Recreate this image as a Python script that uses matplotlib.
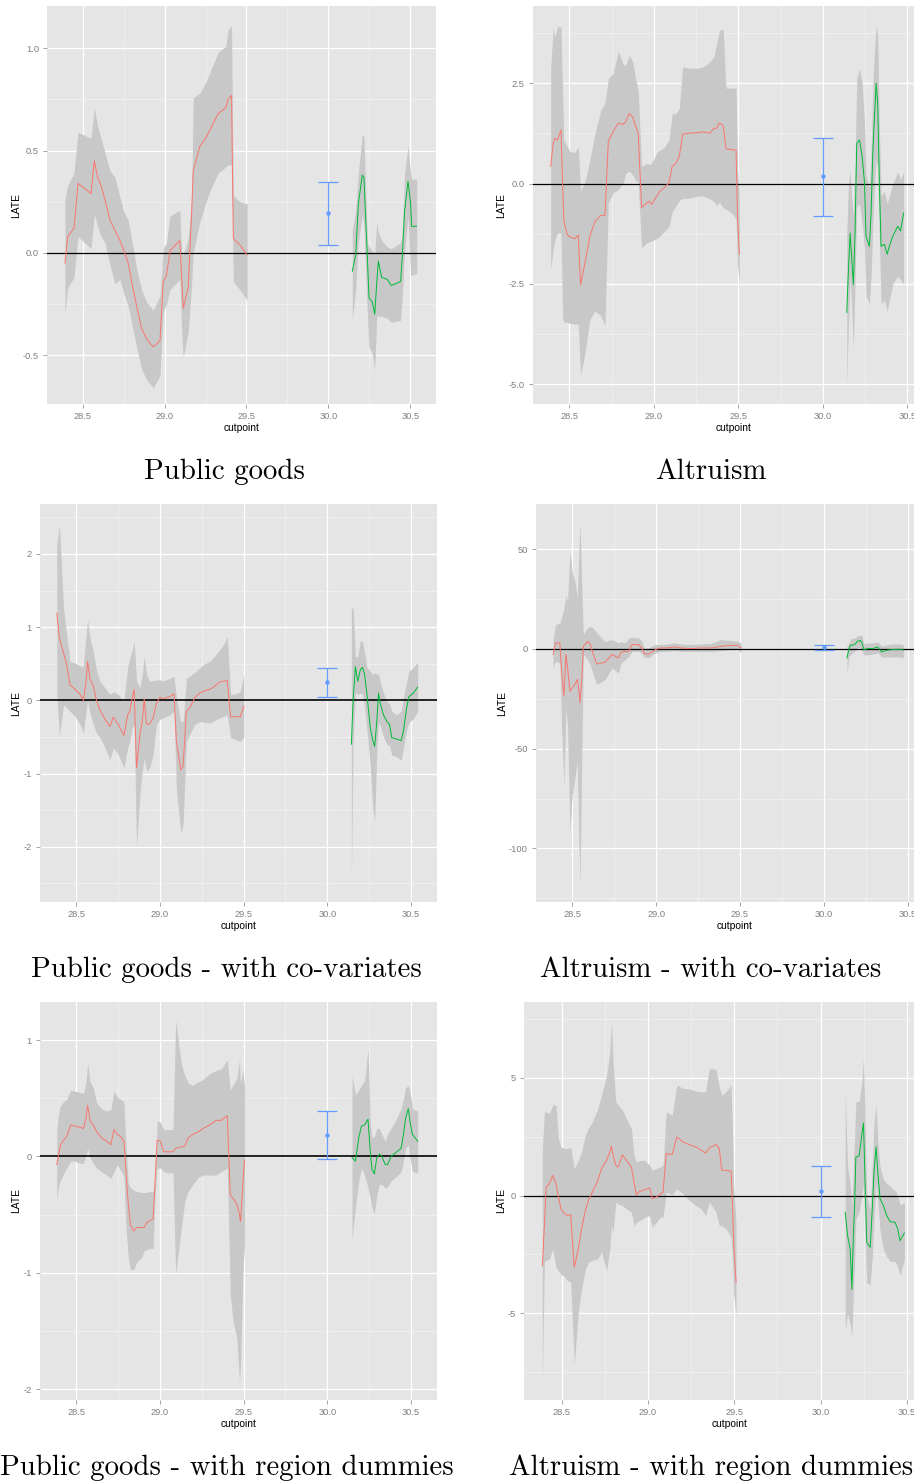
import matplotlib
matplotlib.use("Agg")
import matplotlib.pyplot as plt
from matplotlib.ticker import FixedLocator

W, H = 914, 1483

# ---------------- Public goods ----------------
pg_red_x = [28.392, 28.409, 28.447, 28.472, 28.551, 28.571, 28.591, 28.612, 28.636, 28.667,
            28.697, 28.728, 28.752, 28.778, 28.809, 28.835, 28.860, 28.890, 28.931, 28.972,
            28.992, 29.012, 29.033, 29.093, 29.104, 29.114, 29.144, 29.165, 29.175, 29.215,
            29.250, 29.276, 29.327, 29.374, 29.388, 29.409, 29.414, 29.420, 29.459, 29.504]
pg_red_late = [-0.05, 0.08, 0.12, 0.34, 0.29, 0.45, 0.37, 0.33, 0.26, 0.16,
               0.11, 0.06, 0.01, -0.05, -0.18, -0.28, -0.37, -0.42, -0.46, -0.43,
               -0.14, -0.11, 0.01, 0.06, -0.11, -0.27, -0.17, 0.19, 0.40, 0.52,
               0.56, 0.60, 0.68, 0.71, 0.75, 0.77, 0.44, 0.07, 0.04, -0.01]
pg_red_lo = [-0.30, -0.17, -0.12, 0.08, 0.02, 0.19, 0.13, 0.08, 0.05, -0.06,
             -0.15, -0.13, -0.20, -0.26, -0.38, -0.48, -0.57, -0.62, -0.66, -0.60,
             -0.29, -0.25, -0.18, -0.13, -0.37, -0.51, -0.39, -0.16, 0.00, 0.15,
             0.24, 0.30, 0.39, 0.42, 0.43, 0.43, 0.20, -0.14, -0.18, -0.23]
pg_red_hi = [0.26, 0.33, 0.39, 0.59, 0.56, 0.71, 0.62, 0.56, 0.49, 0.40,
             0.37, 0.27, 0.20, 0.16, 0.02, -0.10, -0.18, -0.24, -0.28, -0.21,
             0.02, 0.05, 0.18, 0.21, 0.00, -0.01, 0.07, 0.26, 0.76, 0.78,
             0.83, 0.88, 0.98, 1.01, 1.09, 1.11, 0.70, 0.28, 0.25, 0.24]
pg_green_x = [30.146, 30.167, 30.183, 30.207, 30.217, 30.238, 30.248, 30.268, 30.283, 30.295,
              30.305, 30.325, 30.360, 30.384, 30.441, 30.451, 30.465, 30.486, 30.502, 30.508,
              30.539]
pg_green_late = [-0.09, -0.01, 0.24, 0.38, 0.37, -0.02, -0.22, -0.24, -0.30, -0.15,
                 -0.04, -0.12, -0.13, -0.16, -0.14, -0.02, 0.20, 0.35, 0.24, 0.13,
                 0.13]
pg_green_lo = [-0.33, -0.18, 0.05, 0.19, 0.13, -0.30, -0.46, -0.49, -0.57, -0.31,
               -0.31, -0.31, -0.32, -0.34, -0.33, -0.21, 0.00, 0.18, -0.11, -0.11,
               -0.10]
pg_green_hi = [0.11, 0.21, 0.39, 0.58, 0.57, 0.05, 0.03, 0.01, 0.00, 0.15,
               0.10, 0.06, 0.03, 0.02, 0.05, 0.10, 0.39, 0.52, 0.39, 0.36,
               0.36]
pg_pool = [0.195, 0.037, 0.346]
pg_yticks = [-0.5, 0.0, 0.5, 1.0]
pg_ylabels = ["-0.5", "0.0", "0.5", "1.0"]

# ---------------- Altruism ----------------
al_red_x = [28.390, 28.405, 28.415, 28.431, 28.451, 28.461, 28.468, 28.488, 28.504, 28.534,
            28.553, 28.567, 28.593, 28.622, 28.652, 28.687, 28.711, 28.731, 28.760, 28.790,
            28.820, 28.835, 28.855, 28.875, 28.889, 28.908, 28.928, 28.958, 28.973, 28.987,
            29.017, 29.036, 29.060, 29.090, 29.109, 29.131, 29.151, 29.171, 29.214, 29.263,
            29.293, 29.332, 29.356, 29.372, 29.388, 29.411, 29.427, 29.470, 29.487, 29.495,
            29.506]
al_red_late = [0.43, 1.01, 1.13, 1.09, 1.34, -0.07, -0.94, -1.27, -1.33, -1.37,
               -1.28, -2.51, -1.97, -1.31, -0.94, -0.79, -0.79, 1.05, 1.30, 1.51,
               1.48, 1.55, 1.75, 1.66, 1.47, 1.26, -0.60, -0.48, -0.44, -0.52,
               -0.31, -0.19, -0.11, 0.02, 0.43, 0.51, 0.68, 1.23, 1.26, 1.27,
               1.29, 1.26, 1.38, 1.38, 1.51, 1.45, 0.87, 0.84, 0.84, -0.73,
               -1.75]
al_red_lo = [-2.14, -1.64, -1.40, -1.23, -1.23, -3.38, -3.44, -3.46, -3.48, -3.50,
             -3.50, -4.78, -4.21, -3.38, -3.17, -3.29, -3.54, -0.48, -0.23, -0.15,
             0.03, 0.26, 0.31, 0.22, 0.10, 0.02, -1.60, -1.47, -1.45, -1.43,
             -1.37, -1.31, -1.20, -1.06, -0.70, -0.55, -0.42, -0.37, -0.36, -0.31,
             -0.31, -0.38, -0.44, -0.55, -0.46, -0.60, -0.63, -0.77, -0.90, -2.00,
             -2.50]
al_red_hi = [2.90, 3.87, 3.66, 3.91, 3.91, 2.09, 1.09, 0.93, 0.80, 0.78,
             0.93, -0.19, 0.06, 0.60, 1.25, 1.84, 2.00, 2.62, 2.75, 3.30,
             2.96, 2.96, 3.20, 3.04, 2.70, 2.30, 0.43, 0.51, 0.47, 0.51,
             0.76, 0.84, 0.89, 1.09, 1.75, 1.75, 1.88, 2.91, 2.87, 2.88,
             2.91, 3.04, 3.16, 3.49, 3.82, 3.84, 2.38, 2.38, 2.38, 0.40,
             -0.30]
al_green_x = [30.142, 30.152, 30.162, 30.172, 30.181, 30.191, 30.201, 30.217, 30.233, 30.247,
              30.256, 30.276, 30.286, 30.296, 30.306, 30.316, 30.325, 30.335, 30.345, 30.365,
              30.381, 30.394, 30.414, 30.444, 30.460, 30.479]
al_green_late = [-3.21, -2.14, -1.23, -1.89, -2.51, -1.23, 1.01, 1.09, 0.68, 0.02,
                 -1.31, -1.56, -0.73, 0.76, 1.67, 2.50, 2.00, 0.02, -1.56, -1.51,
                 -1.76, -1.56, -1.31, -1.06, -1.18, -0.73]
al_green_lo = [-5.03, -3.50, -2.30, -3.20, -4.08, -2.50, -0.60, -0.50, -1.00, -1.60,
               -2.80, -3.00, -2.30, -1.00, 0.00, 0.60, 0.40, -1.40, -3.00, -2.90,
               -3.17, -2.90, -2.50, -2.30, -2.40, -2.50]
al_green_hi = [-1.20, 0.00, 0.30, -0.40, -0.80, 0.50, 2.60, 2.87, 2.50, 1.50,
               0.20, -0.10, 0.80, 2.50, 3.30, 3.95, 3.70, 1.40, -0.30, -0.20,
               -0.50, -0.30, 0.00, 0.30, 0.10, 0.30]
al_pool = [0.18, -0.81, 1.13]
al_yticks = [-5.0, -2.5, 0.0, 2.5]
al_ylabels = ["-5.0", "-2.5", "0.0", "2.5"]

# ---------------- Public goods - with co-variates ----------------
pgc_red_x = [28.385, 28.401, 28.425, 28.444, 28.464, 28.494, 28.524, 28.544, 28.560, 28.569,
             28.583, 28.603, 28.623, 28.643, 28.673, 28.702, 28.722, 28.752, 28.786, 28.808,
             28.821, 28.835, 28.847, 28.861, 28.881, 28.895, 28.907, 28.921, 28.940, 28.960,
             28.980, 29.000, 29.020, 29.040, 29.060, 29.085, 29.099, 29.125, 29.139, 29.159,
             29.179, 29.208, 29.238, 29.268, 29.298, 29.327, 29.357, 29.381, 29.403, 29.423,
             29.456, 29.480, 29.502]
pgc_red_late = [1.19, 0.85, 0.65, 0.49, 0.21, 0.15, 0.08, 0.00, 0.26, 0.53,
                0.30, 0.19, -0.01, -0.13, -0.26, -0.36, -0.23, -0.33, -0.48, -0.20,
                -0.15, 0.03, 0.15, -0.92, -0.47, -0.29, 0.02, -0.33, -0.32, -0.24,
                -0.04, 0.04, 0.02, 0.04, 0.05, 0.09, -0.56, -0.95, -0.90, -0.15,
                -0.10, 0.03, 0.10, 0.13, 0.15, 0.19, 0.25, 0.26, 0.27, -0.23,
                -0.22, -0.23, -0.08]
pgc_red_lo = [0.10, -0.50, -0.06, -0.10, -0.15, -0.22, -0.33, -0.45, -0.13, -0.01,
              -0.17, -0.33, -0.45, -0.51, -0.65, -0.81, -0.65, -0.74, -0.92, -0.65,
              -0.56, -0.38, -0.33, -2.01, -1.29, -0.97, -0.79, -0.97, -0.92, -0.74,
              -0.33, -0.26, -0.24, -0.22, -0.20, -0.15, -1.20, -1.81, -1.70, -0.56,
              -0.47, -0.33, -0.29, -0.30, -0.31, -0.28, -0.24, -0.22, -0.20, -0.51,
              -0.54, -0.56, -0.51]
pgc_red_hi = [2.12, 2.40, 1.26, 0.90, 0.53, 0.51, 0.47, 0.46, 0.90, 1.10,
              0.85, 0.67, 0.40, 0.26, 0.17, 0.08, 0.12, 0.08, -0.01, 0.45,
              0.58, 0.67, 0.80, 0.26, 0.17, 0.35, 0.60, 0.35, 0.26, 0.27,
              0.28, 0.28, 0.27, 0.28, 0.30, 0.33, 0.05, -0.29, -0.29, 0.30,
              0.33, 0.38, 0.44, 0.50, 0.53, 0.60, 0.69, 0.76, 0.87, 0.08,
              0.09, 0.12, 0.35]
pgc_green_x = [30.144, 30.154, 30.168, 30.182, 30.198, 30.211, 30.223, 30.237, 30.257, 30.273,
               30.283, 30.296, 30.306, 30.316, 30.336, 30.356, 30.372, 30.385, 30.415, 30.441,
               30.455, 30.474, 30.488, 30.514, 30.540]
pgc_green_late = [-0.60, -0.01, 0.46, 0.26, 0.42, 0.45, 0.35, 0.08, -0.38, -0.56,
                  -0.63, -0.29, 0.10, -0.04, -0.20, -0.29, -0.33, -0.51, -0.53, -0.55,
                  -0.42, -0.10, 0.05, 0.10, 0.18]
pgc_green_lo = [-2.49, -0.60, 0.10, 0.08, 0.10, 0.08, -0.10, -0.40, -0.90, -1.50,
                -1.65, -0.70, -0.30, -0.35, -0.50, -0.60, -0.62, -0.75, -0.77, -0.82,
                -0.65, -0.40, -0.30, -0.25, -0.15]
pgc_green_hi = [1.26, 1.26, 0.60, 0.60, 0.82, 0.80, 0.65, 0.45, 0.40, 0.35,
                0.38, 0.35, 0.37, 0.25, 0.10, -0.02, -0.05, -0.15, -0.20, -0.15,
                0.05, 0.25, 0.40, 0.45, 0.52]
pgc_pool = [0.245, 0.05, 0.445]
pgc_yticks = [-2, -1, 0, 1, 2]
pgc_ylabels = ["-2", "-1", "0", "1", "2"]

# ---------------- Altruism - with co-variates ----------------
alc_red_x = [28.386, 28.400, 28.426, 28.436, 28.450, 28.462, 28.472, 28.486, 28.500, 28.516,
             28.530, 28.540, 28.546, 28.556, 28.566, 28.590, 28.606, 28.626, 28.646, 28.696,
             28.736, 28.776, 28.790, 28.816, 28.836, 28.856, 28.896, 28.916, 28.930, 28.956,
             28.980, 28.996, 29.026, 29.066, 29.106, 29.146, 29.206, 29.266, 29.326, 29.386,
             29.446, 29.486, 29.506]
alc_red_late = [-2.8, 3.0, 3.0, -11.2, -23.7, -2.8, -9.5, -21.2, -19.5, -17.8,
                -15.3, -21.2, -27.0, -16.2, 1.3, 3.8, 2.5, -2.8, -7.5, -6.7,
                -2.8, -4.5, -1.7, -1.2, -1.2, 2.2, 2.2, 0.2, -2.5, -2.5,
                -1.2, -0.3, 0.5, 0.5, 1.0, 0.5, 0.2, 0.5, 0.5, 1.3,
                1.8, 1.8, 0.5]
alc_red_lo = [-9.5, -6.2, -7.0, -37.8, -69.5, -29.5, -39.5, -91.2, -72.8, -64.5,
              -56.2, -100.0, -117.8, -56.2, -2.8, -5.3, -7.8, -12.8, -17.8, -15.3,
              -9.5, -12.0, -7.0, -5.3, -3.7, -1.2, -1.2, -2.5, -4.2, -4.5,
              -2.8, -2.0, -1.2, -1.2, -0.8, -1.2, -1.2, -1.2, -1.2, -0.8,
              -0.3, -0.3, -2.0]
alc_red_hi = [4.7, 12.2, 13.0, 15.5, 20.5, 27.0, 24.0, 48.5, 38.0, 34.0,
              25.5, 50.5, 63.3, 32.0, 7.2, 10.5, 11.3, 10.5, 8.0, 3.8,
              4.7, 3.0, 3.8, 3.0, 5.5, 5.8, 5.5, 3.8, 0.2, 0.5,
              1.8, 2.2, 2.2, 2.5, 3.0, 2.5, 2.2, 2.5, 2.7, 4.7,
              4.2, 3.8, 3.0]
alc_green_x = [30.138, 30.150, 30.158, 30.184, 30.200, 30.218, 30.228, 30.238, 30.264, 30.294,
               30.320, 30.330, 30.344, 30.374, 30.404, 30.454, 30.474]
alc_green_late = [-4.5, 0.0, 1.8, 2.2, 3.8, 4.3, 3.0, -0.3, 0.2, 0.2,
                  1.0, 0.2, -1.5, -0.7, -0.3, -0.2, -0.5]
alc_green_lo = [-12.0, -4.0, -3.0, -1.0, 0.5, 0.8, -1.0, -3.0, -3.0, -2.5,
                -2.0, -2.5, -4.0, -4.0, -4.0, -4.0, -4.5]
alc_green_hi = [1.5, 3.0, 5.0, 5.5, 6.5, 7.0, 6.5, 2.5, 3.0, 3.0,
                3.5, 3.0, 1.5, 2.0, 2.5, 2.5, 2.0]
alc_pool = [1.0, -0.4, 2.2]
alc_yticks = [-100, -50, 0, 50]
alc_ylabels = ["-100", "-50", "0", "50"]

# ---------------- Public goods - with region dummies ----------------
pgr_red_x = [28.385, 28.395, 28.405, 28.425, 28.444, 28.468, 28.494, 28.524, 28.544, 28.560,
             28.569, 28.583, 28.603, 28.623, 28.653, 28.683, 28.708, 28.726, 28.746, 28.766,
             28.786, 28.798, 28.812, 28.825, 28.845, 28.861, 28.891, 28.907, 28.921, 28.940,
             28.960, 28.970, 28.984, 29.004, 29.024, 29.050, 29.079, 29.095, 29.129, 29.149,
             29.169, 29.198, 29.228, 29.258, 29.298, 29.337, 29.367, 29.403, 29.421, 29.437,
             29.460, 29.476, 29.482, 29.496, 29.506]
pgr_red_late = [-0.07, 0.01, 0.09, 0.14, 0.17, 0.27, 0.26, 0.25, 0.24, 0.33,
                0.44, 0.31, 0.27, 0.21, 0.16, 0.13, 0.10, 0.23, 0.19, 0.17,
                0.13, -0.13, -0.41, -0.59, -0.64, -0.61, -0.61, -0.61, -0.57, -0.55,
                -0.54, -0.27, 0.14, 0.13, 0.04, 0.04, 0.04, 0.07, 0.08, 0.09,
                0.16, 0.19, 0.21, 0.24, 0.27, 0.31, 0.31, 0.35, -0.33, -0.36,
                -0.41, -0.50, -0.56, -0.24, -0.03]
pgr_red_lo = [-0.37, -0.27, -0.21, -0.15, -0.10, -0.04, -0.04, -0.06, -0.06, 0.01,
              0.07, -0.01, -0.06, -0.10, -0.13, -0.16, -0.19, -0.13, -0.07, -0.12,
              -0.17, -0.61, -0.87, -0.97, -0.97, -0.91, -0.87, -0.81, -0.80, -0.79,
              -0.79, -0.39, -0.10, -0.10, -0.13, -0.14, -0.14, -1.01, -0.61, -0.39,
              -0.30, -0.24, -0.18, -0.16, -0.16, -0.16, -0.13, -0.10, -1.19, -1.41,
              -1.56, -1.93, -1.80, -1.00, -0.76]
pgr_red_hi = [0.21, 0.36, 0.43, 0.47, 0.49, 0.57, 0.56, 0.55, 0.54, 0.64,
              0.80, 0.64, 0.59, 0.46, 0.41, 0.39, 0.40, 0.56, 0.51, 0.49,
              0.47, 0.10, -0.23, -0.27, -0.29, -0.30, -0.31, -0.31, -0.31, -0.30,
              -0.30, -0.24, 0.31, 0.29, 0.23, 0.23, 0.23, 1.17, 0.79, 0.70,
              0.63, 0.61, 0.64, 0.66, 0.71, 0.74, 0.75, 0.83, 0.57, 0.61,
              0.67, 0.83, 0.62, 0.75, 0.60]
pgr_green_x = [30.148, 30.168, 30.188, 30.204, 30.223, 30.243, 30.257, 30.267, 30.281, 30.296,
               30.312, 30.326, 30.346, 30.360, 30.381, 30.415, 30.441, 30.455, 30.468, 30.484,
               30.494, 30.508, 30.540]
pgr_green_late = [-0.01, -0.04, 0.16, 0.26, 0.27, 0.32, 0.04, -0.11, -0.15, -0.01,
                  0.02, 0.00, -0.07, -0.07, 0.00, 0.04, 0.07, 0.19, 0.33, 0.41,
                  0.30, 0.19, 0.13]
pgr_green_lo = [-0.71, -0.44, -0.21, -0.10, -0.16, -0.27, -0.36, -0.44, -0.49, -0.33,
                -0.24, -0.24, -0.27, -0.26, -0.21, -0.17, -0.13, -0.04, 0.07, 0.10,
                -0.01, -0.13, -0.14]
pgr_green_hi = [0.69, 0.53, 0.57, 0.61, 0.65, 0.92, 0.27, 0.16, 0.17, 0.24,
                0.24, 0.19, 0.13, 0.19, 0.24, 0.33, 0.41, 0.50, 0.59, 0.61,
                0.56, 0.41, 0.39]
pgr_pool = [0.186, -0.02, 0.39]
pgr_yticks = [-2, -1, 0, 1]
pgr_ylabels = ["-2", "-1", "0", "1"]

# ---------------- Altruism - with region dummies ----------------
alr_red_x = [28.388, 28.400, 28.410, 28.429, 28.448, 28.467, 28.481, 28.496, 28.513, 28.533,
             28.552, 28.573, 28.596, 28.615, 28.635, 28.654, 28.673, 28.706, 28.731, 28.760,
             28.779, 28.788, 28.798, 28.813, 28.827, 28.852, 28.875, 28.904, 28.919, 28.933,
             28.952, 28.981, 29.010, 29.025, 29.048, 29.071, 29.087, 29.106, 29.140, 29.167,
             29.202, 29.240, 29.279, 29.308, 29.333, 29.356, 29.394, 29.413, 29.427, 29.452,
             29.481, 29.490, 29.496, 29.510]
alr_red_late = [-2.98, -1.28, 0.36, 0.50, 0.85, 0.50, -0.07, -0.57, -0.74, -0.85,
                -0.82, -3.05, -2.27, -1.42, -0.71, -0.21, 0.07, 0.57, 1.14, 1.49,
                1.85, 2.10, 1.70, 1.28, 1.21, 1.73, 1.49, 1.21, 0.57, 0.03,
                0.18, 0.24, 0.33, -0.14, -0.07, 0.07, 0.14, 1.78, 1.73, 2.49,
                2.27, 2.16, 2.06, 1.92, 1.80, 2.02, 2.17, 1.99, 1.07, 1.07,
                1.04, -0.43, -1.99, -3.69]
alr_red_lo = [-7.95, -2.84, -2.75, -2.70, -2.27, -3.05, -3.20, -3.35, -3.41, -3.62,
              -3.66, -7.17, -4.97, -3.98, -3.20, -2.84, -2.75, -2.70, -2.41, -3.20,
              -2.27, -1.28, -1.56, -0.28, -0.36, -0.43, -0.57, -0.71, -1.28, -1.14,
              -1.07, -0.92, -0.85, -1.35, -1.14, -0.92, -0.92, 0.14, 0.03, 0.28,
              0.07, -0.21, -0.43, -0.57, -0.85, -0.28, -0.71, -1.28, -1.28, -1.42,
              -1.78, -2.80, -4.20, -5.11]
alr_red_hi = [1.92, 3.55, 3.55, 3.48, 3.84, 3.84, 2.41, 2.06, 2.00, 1.99,
              2.06, 1.14, 1.49, 1.85, 2.50, 2.85, 3.05, 3.62, 4.26, 5.11,
              6.11, 7.39, 5.68, 3.98, 3.84, 3.62, 3.27, 2.84, 1.70, 1.42,
              1.49, 1.49, 1.28, 1.07, 1.14, 1.22, 1.28, 3.55, 3.41, 4.69,
              4.55, 4.52, 4.43, 4.40, 4.40, 5.40, 5.35, 4.60, 4.26, 4.40,
              4.69, 2.50, 0.50, -1.20]
alr_green_x = [30.142, 30.156, 30.171, 30.181, 30.190, 30.196, 30.204, 30.223, 30.238, 30.248,
               30.258, 30.267, 30.287, 30.300, 30.310, 30.321, 30.331, 30.344, 30.363, 30.383,
               30.402, 30.431, 30.446, 30.460, 30.485]
alr_green_late = [-0.71, -1.70, -2.27, -3.98, -1.56, -0.57, 1.63, 1.68, 2.56, 3.08,
                  0.36, -1.99, -2.20, -0.43, 1.14, 2.06, 0.99, -0.14, -0.43, -0.85,
                  -1.11, -1.14, -1.42, -1.92, -1.59]
alr_green_lo = [-5.75, -5.00, -5.50, -5.97, -4.00, -3.00, -1.00, -0.70, 0.00, 0.50,
                -2.00, -3.70, -3.80, -2.50, -0.80, 0.50, -0.20, -1.50, -2.30, -2.60,
                -2.80, -2.80, -3.00, -3.40, -2.70]
alr_green_hi = [4.40, 1.20, 0.50, -0.50, 1.50, 2.30, 3.98, 4.00, 4.80, 5.82,
                3.00, 0.00, -0.60, 1.50, 3.20, 3.84, 2.30, 1.20, 0.70, 0.50,
                0.40, 0.20, 0.00, -0.40, -0.30]
alr_pool = [0.17, -0.91, 1.24]
alr_yticks = [-5, 0, 5]
alr_ylabels = ["-5", "0", "5"]

# shared x axis
x_ticks = [28.5, 29.0, 29.5, 30.0, 30.5]
x_labels = ["28.5", "29.0", "29.5", "30.0", "30.5"]
titles = ["Public goods", "Altruism",
          "Public goods - with co-variates", "Altruism - with co-variates",
          "Public goods - with region dummies", "Altruism - with region dummies"]

RED, GREEN, BLUE = "#F8766D", "#00BA38", "#619CFF"
RIBBON = "#C8C8C8"
TICK_GREY = "#7F7F7F"
SANS = "Liberation Sans"

fig = plt.figure(figsize=(W / 100, H / 100), dpi=100)


def add_axes_px(left, top, right, bottom):
    return fig.add_axes([left / W, 1 - bottom / H, (right - left) / W, (bottom - top) / H])


def minor_between(ticks, lim):
    step = ticks[1] - ticks[0]
    cand = [ticks[0] - step / 2] + [t + step / 2 for t in ticks]
    return [c for c in cand if lim[0] <= c <= lim[1]]


def draw_panel(box, ylim, red, green, pool, yticks, ylabels, zero_lw=0.9):
    ax = add_axes_px(*box)
    ax.set_facecolor("#E5E5E5")
    for s in ax.spines.values():
        s.set_visible(False)
    xlim = (28.283, 30.657)
    ax.set_xlim(*xlim)
    ax.set_ylim(*ylim)

    ax.xaxis.set_major_locator(FixedLocator(x_ticks))
    ax.set_xticklabels(x_labels)
    ax.yaxis.set_major_locator(FixedLocator(yticks))
    ax.set_yticklabels(ylabels)
    ax.xaxis.set_minor_locator(FixedLocator(minor_between(x_ticks, xlim)))
    ax.yaxis.set_minor_locator(FixedLocator(minor_between(yticks, ylim)))
    ax.grid(True, which="major", color="white", lw=0.9)
    ax.grid(True, which="minor", color="#F2F2F2", lw=0.5)
    ax.set_axisbelow(True)
    ax.tick_params(which="major", length=3, width=0.5, color=TICK_GREY,
                   labelcolor=TICK_GREY, labelsize=6.7, pad=2.8)
    ax.tick_params(which="minor", length=0)
    for lab in ax.get_xticklabels() + ax.get_yticklabels():
        lab.set_fontfamily(SANS)

    for (xs, late, lo, hi), col in ((red, RED), (green, GREEN)):
        ax.fill_between(xs, lo, hi, color=RIBBON, lw=0, zorder=2)
        ax.plot(xs, late, color=col, lw=0.7, zorder=4)

    ax.axhline(0, color="black", lw=zero_lw, zorder=3)

    est, lo, hi = pool
    ax.errorbar([30.0], [est], yerr=[[est - lo], [hi - est]], fmt="o", ms=2.2,
                color=BLUE, ecolor=BLUE, elinewidth=0.9, capsize=7, capthick=0.9,
                zorder=5)

    ax.set_xlabel("cutpoint", fontsize=7.4, fontfamily=SANS, labelpad=1.2)
    ax.set_ylabel("LATE", fontsize=7.4, fontfamily=SANS, labelpad=1.5)
    return ax


panels = [
    ((47.1, 6, 436.0, 404), (-0.739, 1.207),
     (pg_red_x, pg_red_late, pg_red_lo, pg_red_hi),
     (pg_green_x, pg_green_late, pg_green_lo, pg_green_hi), pg_pool, pg_yticks, pg_ylabels, 0.9),
    ((532.6, 6, 933.8, 404), (-5.49, 4.426),
     (al_red_x, al_red_late, al_red_lo, al_red_hi),
     (al_green_x, al_green_late, al_green_lo, al_green_hi), al_pool, al_yticks, al_ylabels, 0.9),
    ((39.7, 504, 437.3, 902), (-2.756, 2.683),
     (pgc_red_x, pgc_red_late, pgc_red_lo, pgc_red_hi),
     (pgc_green_x, pgc_green_late, pgc_green_lo, pgc_green_hi), pgc_pool, pgc_yticks, pgc_ylabels, 1.2),
    ((535.9, 504, 934.0, 902), (-126.9, 72.7),
     (alc_red_x, alc_red_late, alc_red_lo, alc_red_hi),
     (alc_green_x, alc_green_late, alc_green_lo, alc_green_hi), alc_pool, alc_yticks, alc_ylabels, 0.9),
    ((39.7, 1001.7, 437.3, 1400), (-2.092, 1.329),
     (pgr_red_x, pgr_red_late, pgr_red_lo, pgr_red_hi),
     (pgr_green_x, pgr_green_late, pgr_green_lo, pgr_green_hi), pgr_pool, pgr_yticks, pgr_ylabels, 1.2),
    ((524.2, 1001.7, 934.1, 1400), (-8.68, 8.226),
     (alr_red_x, alr_red_late, alr_red_lo, alr_red_hi),
     (alr_green_x, alr_green_late, alr_green_lo, alr_green_hi), alr_pool, alr_yticks, alr_ylabels, 0.9),
]

for p in panels:
    draw_panel(*p)

# captions under each panel
title_pos = [(224, 472), (711, 472), (226, 970), (711, 970), (227, 1468), (711, 1468)]
for (tx, ty), t in zip(title_pos, titles):
    fig.text(tx / W, 1 - ty / H, t, ha="center", va="center",
             fontsize=20.8, fontfamily="cmr10")

fig.savefig("out.png", dpi=100)
